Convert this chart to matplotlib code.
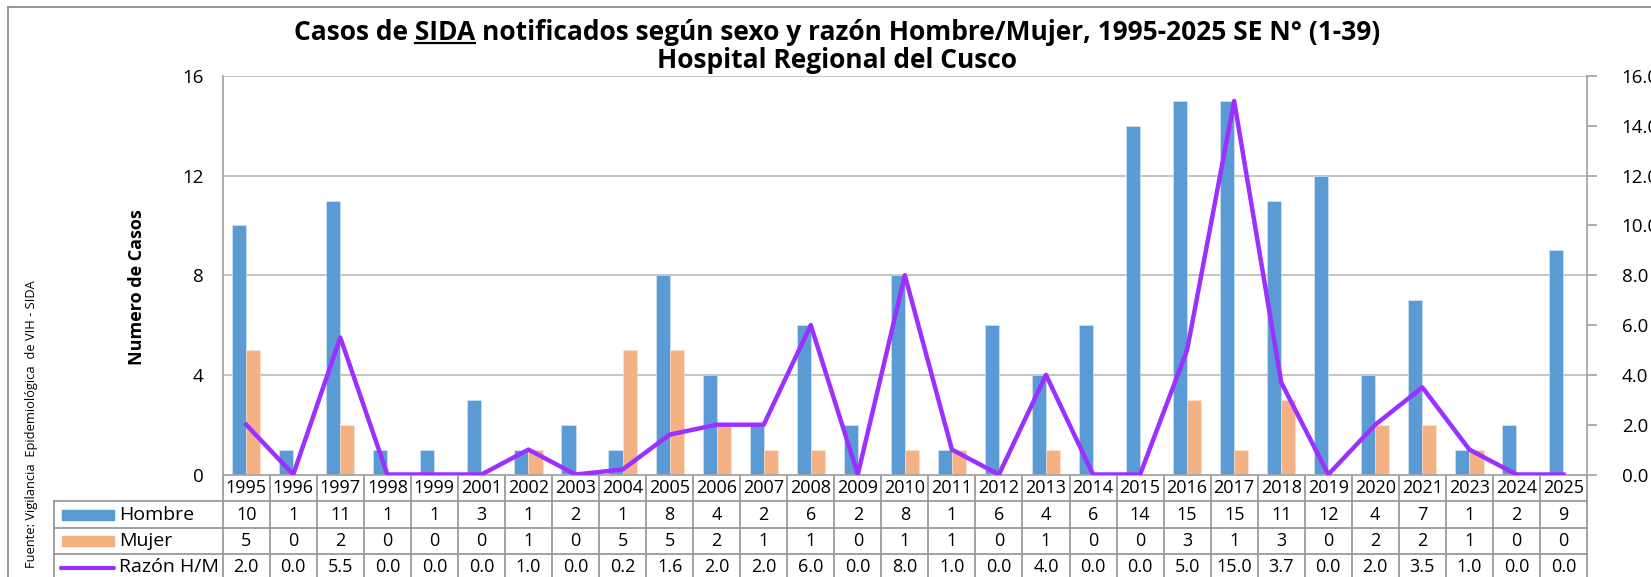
import numpy as np
import matplotlib
matplotlib.use('Agg')
import matplotlib.pyplot as plt
import matplotlib.transforms as mtransforms
from matplotlib.lines import Line2D
from matplotlib.patches import Rectangle

plt.rcParams['font.family'] = ['Open Sans', 'DejaVu Sans']

# datos
anios = ['1995', '1996', '1997', '1998', '1999', '2001', '2002', '2003', '2004', '2005',
         '2006', '2007', '2008', '2009', '2010', '2011', '2012', '2013', '2014', '2015',
         '2016', '2017', '2018', '2019', '2020', '2021', '2023', '2024', '2025']
hombre = [10, 1, 11, 1, 1, 3, 1, 2, 1, 8, 4, 2, 6, 2, 8, 1, 6, 4, 6, 14, 15, 15, 11, 12, 4, 7, 1, 2, 9]
mujer = [5, 0, 2, 0, 0, 0, 1, 0, 5, 5, 2, 1, 1, 0, 1, 1, 0, 1, 0, 0, 3, 1, 3, 0, 2, 2, 1, 0, 0]
razon = [2.0, 0.0, 5.5, 0.0, 0.0, 0.0, 1.0, 0.0, 0.2, 1.6, 2.0, 2.0, 6.0, 0.0, 8.0, 1.0, 0.0,
         4.0, 0.0, 0.0, 5.0, 15.0, 3.7, 0.0, 2.0, 3.5, 1.0, 0.0, 0.0]
series = ['Hombre', 'Mujer', 'Razón H/M']

azul = '#5B9BD5'
naranja = '#F4B183'
morado = '#9B30FF'
gris = '#A6A6A6'

W, H = 1651, 577
def fx(px): return px / W
def fy(py): return 1 - py / H

fig = plt.figure(figsize=(W / 100, H / 100), dpi=100)

x0_px, x1_px, top_px, zero_px = 222.7, 1587, 76, 474.5
ax = fig.add_axes([fx(x0_px), fy(zero_px), fx(x1_px) - fx(x0_px), fy(top_px) - fy(zero_px)])
def ya(py): return (zero_px - py) / (zero_px - top_px)

x = np.arange(len(anios))
w = 0.3
ax.bar(x - w / 2, hombre, w, color=azul, edgecolor='#DCE9F5', linewidth=0.4, zorder=2)
ax.bar(x + w / 2, mujer, w, color=naranja, edgecolor='#FBE3D2', linewidth=0.4, zorder=2)
ax.set_xlim(-0.5, len(anios) - 0.5)
ax.set_ylim(0, 16)
ax.set_yticks([0, 4, 8, 12, 16])
ax.set_xticks([])
ax.yaxis.grid(True, color='#BFBFBF', linewidth=1.3, zorder=0)
ax.set_axisbelow(True)
ax.tick_params(axis='y', length=0, pad=14, labelsize=13.5)
for s in ['top', 'right']:
    ax.spines[s].set_visible(False)
for s in ['left', 'bottom']:
    ax.spines[s].set_color(gris)
    ax.spines[s].set_linewidth(1.3)

ax2 = ax.twinx()
ax2.plot(x, razon, color=morado, linewidth=3.2, solid_joinstyle='round', zorder=3)
ax2.set_ylim(0, 16)
ax2.set_yticks(np.arange(0, 17, 2))
ax2.set_yticklabels(['%.1f' % v for v in np.arange(0, 17, 2)])
ax2.tick_params(axis='y', length=7, width=1.3, color=gris, pad=18, labelsize=13.5)
for s in ['top', 'left', 'bottom']:
    ax2.spines[s].set_visible(False)
ax2.spines['right'].set_color(gris)
ax2.spines['right'].set_linewidth(1.3)

# tabla de datos bajo el eje
trans = mtransforms.blended_transform_factory(ax.transData, ax.transAxes)
filas = [(474.5, 501), (501, 528), (528, 554), (554, 581)]
lc = '#9A9A9A'
for i in range(len(anios) + 1):
    ax.add_line(Line2D([i - 0.5, i - 0.5], [0, ya(581)], transform=trans, color=lc,
                       linewidth=1.3, clip_on=False))
for (a, b) in filas[1:]:
    fig.add_artist(Line2D([fx(54), fx(x1_px)], [fy(a), fy(a)], color=lc, linewidth=1.3))
fig.add_artist(Line2D([fx(54), fx(54)], [fy(501), fy(581)], color=lc, linewidth=1.3))

valores = [anios, [str(v) for v in hombre], [str(v) for v in mujer], ['%.1f' % v for v in razon]]
for (a, b), vals in zip(filas, valores):
    yc = ya((a + b) / 2)
    for i, v in enumerate(vals):
        ax.text(i, yc, v, transform=trans, ha='center', va='center', fontsize=13, clip_on=False)

# leyenda dentro de la tabla
colores = [azul, naranja]
for (a, b), c in zip(filas[1:3], colores):
    yc = (a + b) / 2
    fig.add_artist(Rectangle((fx(62), fy(yc + 5)), fx(114) - fx(62), 10 / H,
                             transform=fig.transFigure, color=c))
yc = (filas[3][0] + filas[3][1]) / 2
fig.add_artist(Line2D([fx(61), fx(114)], [fy(yc), fy(yc)], color=morado, linewidth=3,
                      solid_capstyle='round'))
for (a, b), s in zip(filas[1:], series):
    fig.text(fx(119), fy((a + b) / 2), s, ha='left', va='center', fontsize=14)

# titulos
tsize = 19
tkw = dict(fontsize=tsize, fontweight='bold', ha='center', va='baseline')
linea1 = 'Casos de SIDA notificados según sexo y razón Hombre/Mujer, 1995-2025 SE N° (1-39)'
t1 = fig.text(fx(837), fy(40), linea1, **tkw)
fig.text(fx(837), fy(68), 'Hospital Regional del Cusco', **tkw)

r = fig.canvas.get_renderer()
def ancho(s):
    t = fig.text(0, 0, s, fontsize=tsize, fontweight='bold')
    wd = t.get_window_extent(r).width
    t.remove()
    return wd
bb = t1.get_window_extent(r)
u1 = bb.x0 + ancho('Casos de SIDA') - ancho('SIDA')
u2 = bb.x0 + ancho('Casos de SIDA')
fig.add_artist(Line2D([u1 / W, u2 / W], [fy(43), fy(43)], color='black', linewidth=1.6))

fig.text(fx(137), fy(287), 'Numero de Casos', rotation=90, ha='center', va='center',
         fontsize=13, fontweight='bold')
fig.text(fx(32), fy(424), 'Fuente: Vigilancia  Epidemiológica  de VIH - SIDA', rotation=90,
         ha='center', va='center', fontsize=9.3)

# marco del grafico
fig.add_artist(Line2D([fx(8), fx(8)], [fy(7), 0], color='#8C8C8C', linewidth=1.3))
fig.add_artist(Line2D([fx(8), 1], [fy(7), fy(7)], color='#8C8C8C', linewidth=1.3))

fig.savefig('out.png', dpi=100)
